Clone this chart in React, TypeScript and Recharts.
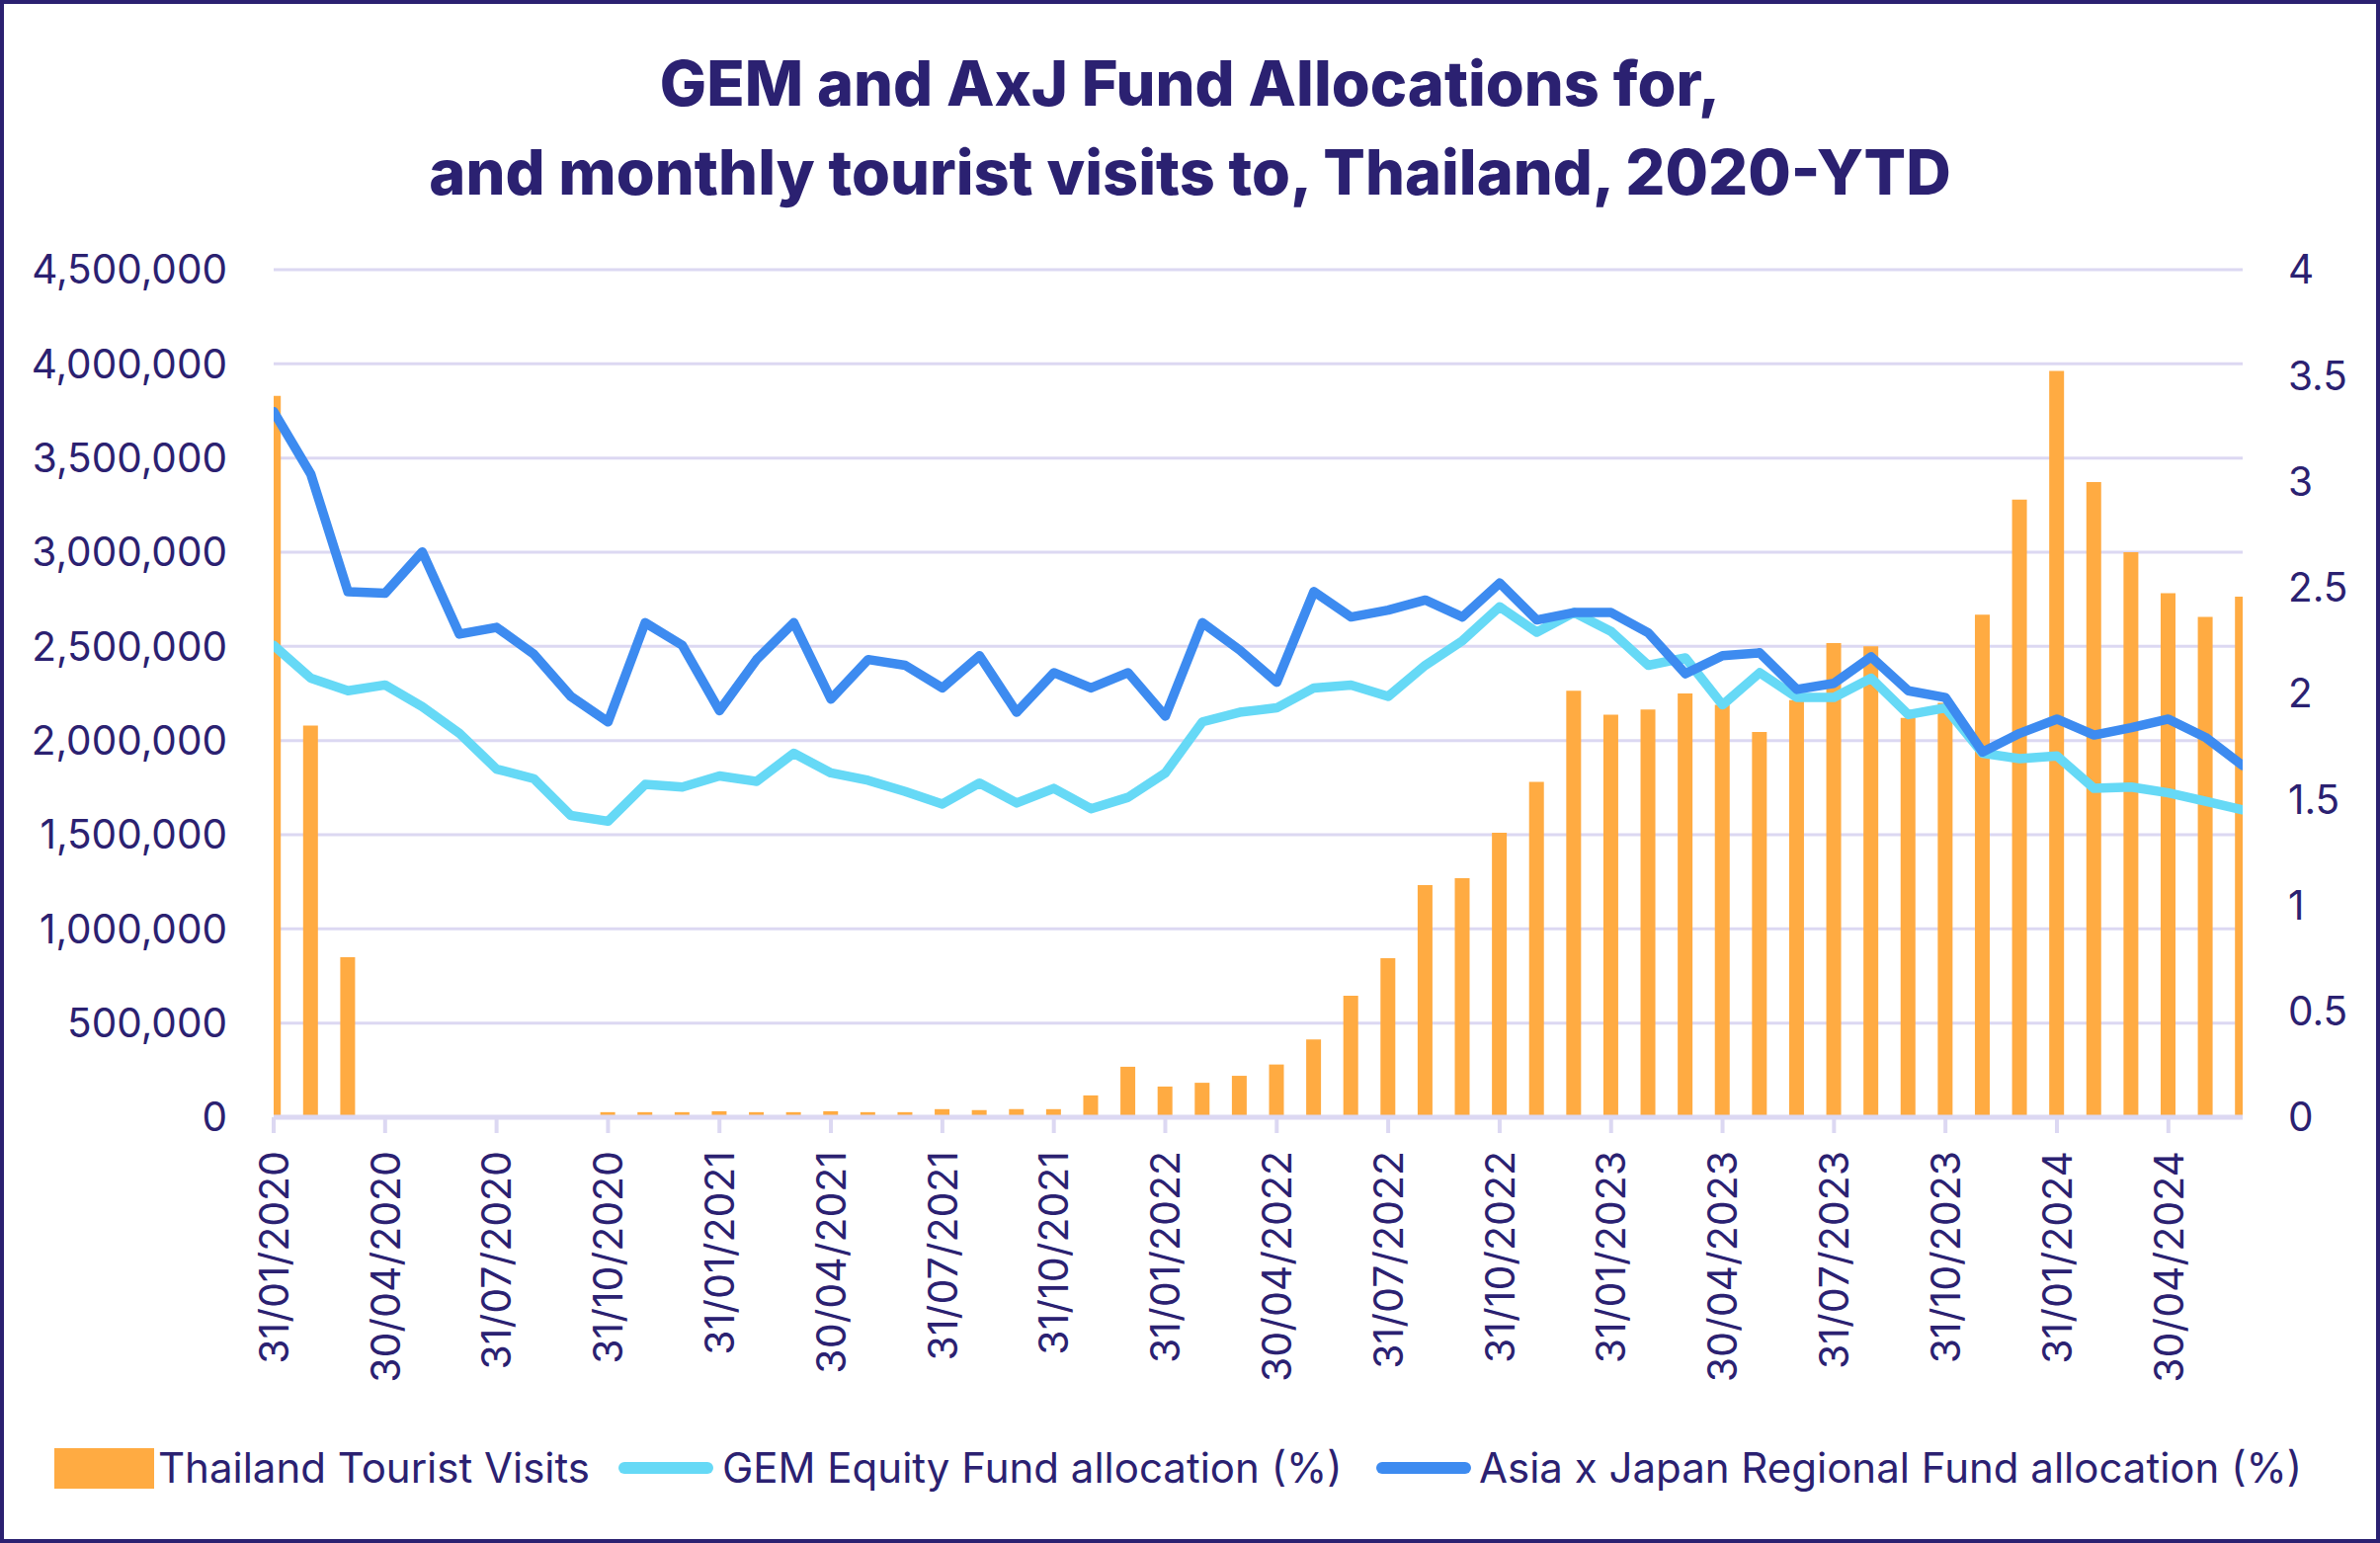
import { ComposedChart, Bar, Line, XAxis, YAxis, CartesianGrid } from 'recharts';

const months = [
  '31/01/2020', '29/02/2020', '31/03/2020', '30/04/2020', '31/05/2020', '30/06/2020',
  '31/07/2020', '31/08/2020', '30/09/2020', '31/10/2020', '30/11/2020', '31/12/2020',
  '31/01/2021', '28/02/2021', '31/03/2021', '30/04/2021', '31/05/2021', '30/06/2021',
  '31/07/2021', '31/08/2021', '30/09/2021', '31/10/2021', '30/11/2021', '31/12/2021',
  '31/01/2022', '28/02/2022', '31/03/2022', '30/04/2022', '31/05/2022', '30/06/2022',
  '31/07/2022', '31/08/2022', '30/09/2022', '31/10/2022', '30/11/2022', '31/12/2022',
  '31/01/2023', '28/02/2023', '31/03/2023', '30/04/2023', '31/05/2023', '30/06/2023',
  '31/07/2023', '31/08/2023', '30/09/2023', '31/10/2023', '30/11/2023', '31/12/2023',
  '31/01/2024', '29/02/2024', '31/03/2024', '30/04/2024', '31/05/2024', '30/06/2024',
];

// monthly tourist arrivals
const visits = [
  3830000, 2080000, 850000, 0, 0, 0, 0, 0, 0, 27000, 27000, 27000,
  32000, 27000, 27000, 32000, 27000, 27000, 43000, 38000, 43000, 43000, 116000, 268000,
  163000, 183000, 220000, 280000, 413000, 645000, 844000, 1232000, 1269000, 1510000, 1780000, 2265000,
  2137000, 2165000, 2250000, 2190000, 2045000, 2215000, 2517000, 2500000, 2120000, 2200000, 2668000, 3279000,
  3962000, 3372000, 3000000, 2782000, 2656000, 2764000,
];

// GEM Equity funds, % allocation
const gem = [
  2.227, 2.072, 2.013, 2.04, 1.938, 1.812, 1.643, 1.598, 1.424, 1.397, 1.571, 1.558,
  1.611, 1.585, 1.718, 1.625, 1.59, 1.537, 1.478, 1.577, 1.483, 1.552, 1.456, 1.51,
  1.625, 1.866, 1.911, 1.932, 2.026, 2.04, 1.986, 2.133, 2.249, 2.409, 2.289, 2.382,
  2.293, 2.133, 2.168, 1.946, 2.098, 1.981, 1.981, 2.072, 1.9, 1.932, 1.718, 1.692,
  1.705, 1.552, 1.558, 1.531, 1.491, 1.451,
];

// Asia ex-Japan regional funds, % allocation
const axj = [
  3.33, 3.035, 2.48, 2.473, 2.668, 2.28, 2.312, 2.186, 1.986, 1.866, 2.334, 2.227,
  1.919, 2.16, 2.334, 1.973, 2.16, 2.133, 2.026, 2.178, 1.911, 2.098, 2.026, 2.098,
  1.893, 2.334, 2.205, 2.053, 2.481, 2.361, 2.393, 2.441, 2.361, 2.521, 2.347, 2.382,
  2.382, 2.286, 2.093, 2.178, 2.192, 2.019, 2.048, 2.173, 2.013, 1.981, 1.724, 1.812,
  1.879, 1.804, 1.839, 1.879, 1.793, 1.66,
];

const leftTicks = [0, 500000, 1000000, 1500000, 2000000, 2500000, 3000000, 3500000, 4000000, 4500000];
const rightTicks = [0, 0.5, 1, 1.5, 2, 2.5, 3, 3.5, 4];
const dateTicks = [0, 3, 6, 9, 12, 15, 18, 21, 24, 27, 30, 33, 36, 39, 42, 45, 48, 51];

const data = months.map((m, i) => ({ idx: i, date: m, visits: visits[i], gem: gem[i], axj: axj[i] }));

const NAVY = '#2b2171';
const ORANGE = '#ffab42';
const CYAN = '#66d9f6';
const BLUE = '#3d8bf0';
const GRID = '#dcd8f2';
const FONT = 'Inter, "Noto Sans", sans-serif';

const DateTick = ({ x, y, payload }: any) => (
  <text
    x={x}
    y={y}
    transform={`rotate(-90, ${x}, ${y})`}
    textAnchor="end"
    dy="0.36em"
    fill={NAVY}
    fontSize={41}
    fontFamily={FONT}
  >
    {months[payload.value]}
  </text>
);

export default function App() {
  return (
    <div style={{ position: 'relative', width: 2409, height: 1562, background: '#fff', fontFamily: FONT }}>
      <style>{'body{margin:0}'}</style>
      <div
        style={{
          position: 'absolute', left: 0, right: 0, top: 39, textAlign: 'center',
          color: NAVY, fontSize: 63, fontWeight: 800, lineHeight: '90px',
        }}
      >
        GEM and AxJ Fund Allocations for,
        <br />
        and monthly tourist visits to, Thailand, 2020-YTD
      </div>

      <ComposedChart width={2409} height={1562} data={data} margin={{ top: 273, right: 0, bottom: 0, left: 0 }}>
        <CartesianGrid yAxisId="left" vertical={false} stroke={GRID} strokeWidth={3} />
        <XAxis
          dataKey="idx"
          type="number"
          domain={[0, 53]}
          ticks={dateTicks}
          allowDataOverflow
          height={431}
          interval={0}
          tick={<DateTick />}
          tickSize={16}
          tickMargin={18}
          axisLine={{ stroke: GRID, strokeWidth: 5 }}
          tickLine={{ stroke: GRID, strokeWidth: 4 }}
        />
        <YAxis
          yAxisId="left"
          width={277}
          domain={[0, 4500000]}
          ticks={leftTicks}
          interval={0}
          axisLine={false}
          tickLine={false}
          tickMargin={41}
          tickFormatter={(v: number) => v.toLocaleString('en-US')}
          tick={{ fill: NAVY, fontSize: 40.5, fontFamily: FONT }}
        />
        <YAxis
          yAxisId="right"
          orientation="right"
          width={139}
          domain={[0, 4]}
          ticks={rightTicks}
          interval={0}
          axisLine={false}
          tickLine={false}
          tickMargin={40}
          tick={{ fill: NAVY, fontSize: 40.5, fontFamily: FONT, textAnchor: 'start' }}
        />
        <Bar yAxisId="left" dataKey="visits" fill={ORANGE} barSize={15} isAnimationActive={false} />
        <Line
          yAxisId="right"
          dataKey="gem"
          stroke={CYAN}
          strokeWidth={9.5}
          dot={false}
          strokeLinejoin="round"
          strokeLinecap="round"
          isAnimationActive={false}
        />
        <Line
          yAxisId="right"
          dataKey="axj"
          stroke={BLUE}
          strokeWidth={9.5}
          dot={false}
          strokeLinejoin="round"
          strokeLinecap="round"
          isAnimationActive={false}
        />
      </ComposedChart>

      {/* legend */}
      <div style={{ position: 'absolute', top: 1463, left: 0, height: 44, color: NAVY, fontSize: 42 }}>
        <div style={{ position: 'absolute', left: 55, top: 3, width: 101, height: 41, background: ORANGE }} />
        <span style={{ position: 'absolute', left: 160, top: 0, whiteSpace: 'nowrap', lineHeight: '46px' }}>
          Thailand Tourist Visits
        </span>
        <div style={{ position: 'absolute', left: 626, top: 17, width: 96, height: 12, borderRadius: 6, background: CYAN }} />
        <span style={{ position: 'absolute', left: 731, top: 0, whiteSpace: 'nowrap', lineHeight: '46px' }}>
          GEM Equity Fund allocation (%)
        </span>
        <div style={{ position: 'absolute', left: 1393, top: 17, width: 96, height: 12, borderRadius: 6, background: BLUE }} />
        <span style={{ position: 'absolute', left: 1497, top: 0, whiteSpace: 'nowrap', lineHeight: '46px' }}>
          Asia x Japan Regional Fund allocation (%)
        </span>
      </div>

      <div
        style={{
          position: 'absolute', inset: 0, border: `4px solid ${NAVY}`,
          boxSizing: 'border-box', pointerEvents: 'none',
        }}
      />
    </div>
  );
}
